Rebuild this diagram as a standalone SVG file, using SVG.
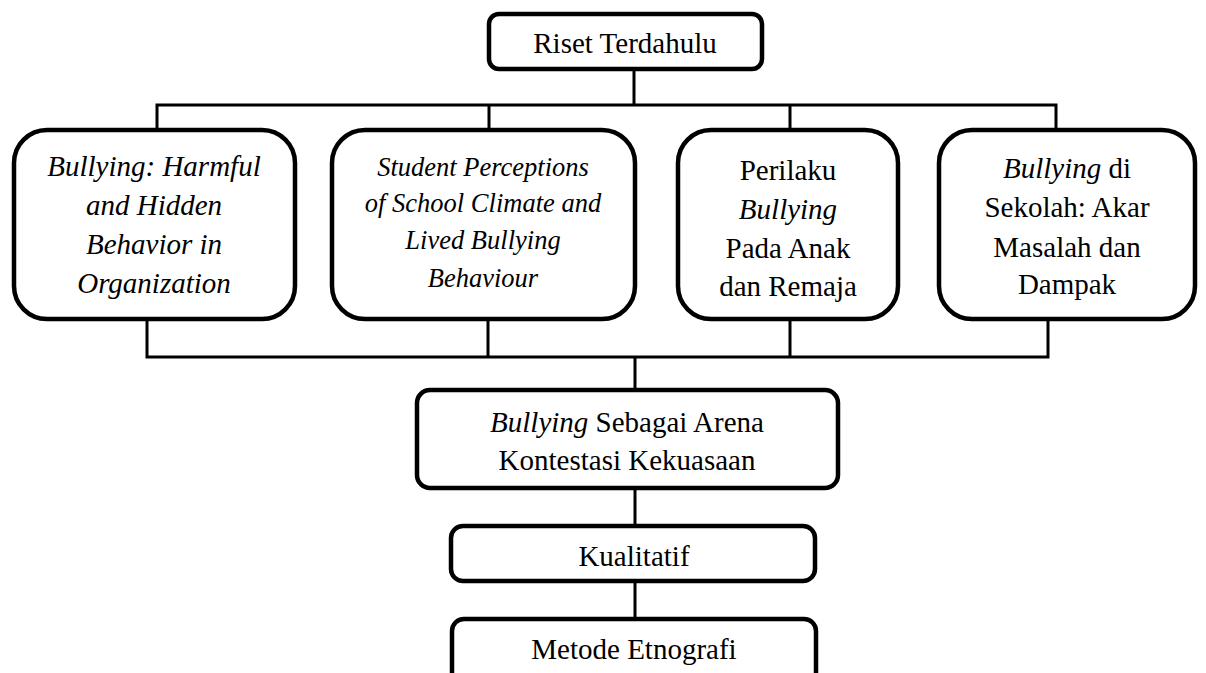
<svg xmlns="http://www.w3.org/2000/svg" width="1206" height="673" viewBox="0 0 1206 673">
<style>
.box{fill:#fff;stroke:#000;stroke-width:4.5}
.ln{fill:none;stroke:#000;stroke-width:3;stroke-linecap:square}
text{font-family:"Liberation Serif","Times New Roman",serif;font-size:29px;fill:#000;text-anchor:middle}
.sm{font-size:26.5px}
.i{font-style:italic}
</style>
<rect width="1206" height="673" fill="#fff"/>
<g id="connectors">
<path class="ln" d="M634 71V105M157 128V105H1056V128M489 105V128M790 105V128"/>
<path class="ln" d="M147 321V357H1048V321M488 321V357M790 321V357M635 357V388"/>
<path class="ln" d="M635 490V524M635 583V617"/>
</g>
<g id="n-riset">
<rect class="box" x="489" y="14" width="273" height="55" rx="10"/>
<text x="625" y="53">Riset Terdahulu</text>
</g>
<g id="n-harmful">
<rect class="box" x="14" y="130" width="281" height="189" rx="33"/>
<text class="i" x="154" y="176">Bullying: Harmful</text>
<text class="i" x="154" y="215">and Hidden</text>
<text class="i" x="154" y="254">Behavior in</text>
<text class="i" x="154" y="293">Organization</text>
</g>
<g id="n-student">
<rect class="box" x="332" y="130" width="303" height="189" rx="33"/>
<text class="i sm" x="483" y="176">Student Perceptions</text>
<text class="i sm" x="483" y="212">of School Climate and</text>
<text class="i sm" x="483" y="249">Lived Bullying</text>
<text class="i sm" x="483" y="287">Behaviour</text>
</g>
<g id="n-perilaku">
<rect class="box" x="678" y="130" width="220" height="189" rx="33"/>
<text x="788" y="180">Perilaku</text>
<text class="i" x="788" y="219">Bullying</text>
<text x="788" y="258">Pada Anak</text>
<text x="788" y="296">dan Remaja</text>
</g>
<g id="n-sekolah">
<rect class="box" x="939" y="130" width="256" height="189" rx="33"/>
<text x="1067" y="178"><tspan class="i">Bullying</tspan> di</text>
<text x="1067" y="217">Sekolah: Akar</text>
<text x="1067" y="257">Masalah dan</text>
<text x="1067" y="294">Dampak</text>
</g>
<g id="n-arena">
<rect class="box" x="417" y="390" width="421" height="98" rx="13"/>
<text x="627" y="432"><tspan class="i">Bullying</tspan> Sebagai Arena</text>
<text x="627" y="470">Kontestasi Kekuasaan</text>
</g>
<g id="n-kualitatif">
<rect class="box" x="451" y="526" width="364" height="55" rx="12"/>
<text x="634" y="566">Kualitatif</text>
</g>
<g id="n-metode">
<rect class="box" x="452" y="619" width="364" height="80" rx="12"/>
<text x="634" y="659">Metode Etnografi</text>
</g>
</svg>
